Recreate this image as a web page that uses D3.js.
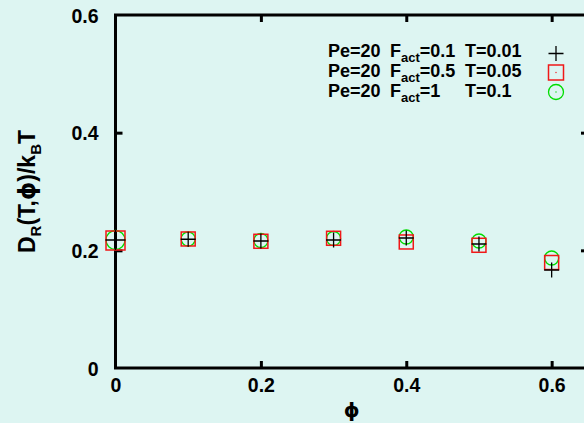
<!DOCTYPE html>
<html><head><meta charset="utf-8">
<script src="https://cdn.jsdelivr.net/npm/d3@7"></script>
<style>body{margin:0;background:#ddf5f2;}svg{display:block;}</style>
</head><body>
<script>
const phi = [0, 0.1, 0.2, 0.3, 0.4, 0.5, 0.6];
const seriesPlus   = [0.2176, 0.2188, 0.2159, 0.2176, 0.2210, 0.2108, 0.1666];
const seriesSquare = [0.2167, 0.2193, 0.2154, 0.2205, 0.2142, 0.2086, 0.1793];
const seriesCircle = [0.2176, 0.2193, 0.2167, 0.2201, 0.2227, 0.2159, 0.1870];
const xTicks = [0, 0.2, 0.4, 0.6];
const yTicks = [0, 0.2, 0.4, 0.6];
const legendLabels = [
  {pe:"Pe=20", f:"=0.1", t:"T=0.01"},
  {pe:"Pe=20", f:"=0.5", t:"T=0.05"},
  {pe:"Pe=20", f:"=1", t:"T=0.1"}
];

const W = 584, H = 423;
const svg = d3.select("body").append("svg").attr("width", W).attr("height", H)
  .style("font-family", "'Liberation Sans', Arial, sans-serif").style("font-weight", "bold");
svg.append("rect").attr("width", W).attr("height", H).attr("fill", "#ddf5f2");

const L = 115.5, R = 588, T = 15, B = 368;
const x = d3.scaleLinear().domain([0, 0.65]).range([L, R]);
const y = d3.scaleLinear().domain([0, 0.6]).range([B, T]);

// frame
svg.append("rect").attr("x", L).attr("y", T).attr("width", R - L).attr("height", B - T)
  .attr("fill", "none").attr("stroke", "#000").attr("stroke-width", 3);

// axes with inward ticks
const fmt = d => d === 0 ? "0" : d3.format(".1f")(d);
const xb = svg.append("g").attr("transform", `translate(0,${B})`)
  .call(d3.axisBottom(x).tickValues(xTicks).tickSizeInner(-7).tickSizeOuter(0).tickPadding(10).tickFormat(fmt));
const xt = svg.append("g").attr("transform", `translate(0,${T})`)
  .call(d3.axisTop(x).tickValues(xTicks.filter(d => d > 0)).tickSizeInner(-7).tickSizeOuter(0).tickFormat(""));
const yl = svg.append("g").attr("transform", `translate(${L},0)`)
  .call(d3.axisLeft(y).tickValues(yTicks).tickSizeInner(-7).tickSizeOuter(0).tickPadding(17).tickFormat(fmt));
const yr = svg.append("g").attr("transform", `translate(${R},0)`)
  .call(d3.axisRight(y).tickValues(yTicks.filter(d => d > 0 && d < 0.6)).tickSizeInner(-7).tickSizeOuter(0).tickFormat(""));
[xb, xt, yl, yr].forEach(g => {
  g.select(".domain").remove();
  g.selectAll(".tick line").attr("stroke", "#000").attr("stroke-width", 3);
  g.selectAll("text").attr("fill", "#000").style("font-size", "19.5px").style("font-weight", "bold")
    .style("font-family", "'Liberation Sans', Arial, sans-serif");
});
xb.selectAll(".tick").filter(d => d === 0).select("line").remove();
yl.selectAll(".tick").filter(d => d === 0 || d === 0.6).select("line").remove();
xb.selectAll("text").attr("dy", "0.71em");
yl.selectAll("text").attr("dy", "0.36em");

// axis titles
svg.append("text").attr("x", (L + R) / 2).attr("y", 417).attr("text-anchor", "middle")
  .style("font-size", "20px").style("font-family", "'DejaVu Sans', sans-serif").text("ϕ");
const yt = svg.append("text").attr("transform", `translate(35,${(T + B) / 2}) rotate(-90)`)
  .attr("text-anchor", "middle").style("font-size", "23px");
yt.append("tspan").text("D");
yt.append("tspan").attr("dy", 6).style("font-size", "15px").text("R");
yt.append("tspan").attr("dy", -6).text("(T,");
yt.append("tspan").style("font-family", "'DejaVu Sans', sans-serif").text("ϕ");
yt.append("tspan").text(")/k");
yt.append("tspan").attr("dy", 6).style("font-size", "15px").text("B");
yt.append("tspan").attr("dy", -6).text("T");

// markers
const red = "#f01818", green = "#00dd00";
const sz = i => i === 0 ? 19 : 14;
function plus(g, cx, cy, s) {
  g.append("path").attr("d", `M${cx - s/2},${cy}H${cx + s/2}M${cx},${cy - s/2}V${cy + s/2}`)
    .attr("stroke", "#000").attr("stroke-width", 1.3).attr("fill", "none");
}
function square(g, cx, cy, s) {
  g.append("rect").attr("x", cx - s/2).attr("y", cy - s/2).attr("width", s).attr("height", s)
    .attr("fill", "none").attr("stroke", red).attr("stroke-width", 1.5);
}
function circle(g, cx, cy, s) {
  g.append("circle").attr("cx", cx).attr("cy", cy).attr("r", s/2)
    .attr("fill", "none").attr("stroke", green).attr("stroke-width", 1.3);
}
const gp = svg.append("g");
phi.forEach((p, i) => circle(gp, x(p), y(seriesCircle[i]), sz(i)));
phi.forEach((p, i) => square(gp, x(p), y(seriesSquare[i]), sz(i)));
phi.forEach((p, i) => plus(gp, x(p), y(seriesPlus[i]), sz(i) + 1));

// legend
const lg = svg.append("g").style("font-size", "18px");
const rowsY = [57, 76.7, 96.5];
legendLabels.forEach((l, i) => {
  lg.append("text").attr("x", 328).attr("y", rowsY[i]).text(l.pe);
  const tf = lg.append("text").attr("x", 390).attr("y", rowsY[i]);
  tf.append("tspan").text("F");
  tf.append("tspan").attr("dy", 5).style("font-size", "13px").text("act");
  tf.append("tspan").attr("dy", -5).text(l.f);
  lg.append("text").attr("x", 465).attr("y", rowsY[i]).text(l.t);
});
plus(lg, 556, 53.5, 15);
square(lg, 556, 72.5, 15);
lg.append("circle").attr("cx", 556).attr("cy", 72.5).attr("r", 0.7).attr("fill", red);
circle(lg, 556, 92, 15);
lg.append("circle").attr("cx", 556).attr("cy", 92).attr("r", 0.7).attr("fill", green);
</script>
</body></html>
